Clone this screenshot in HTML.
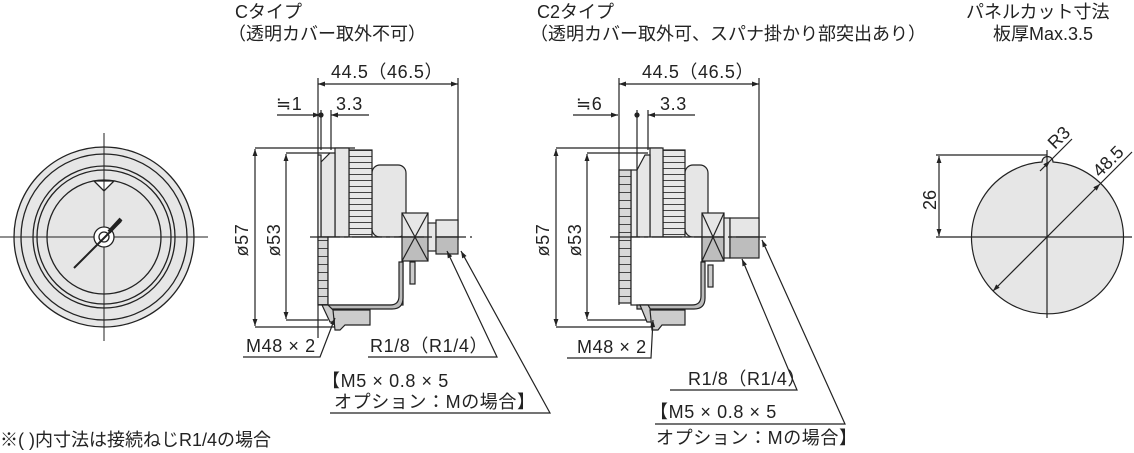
<!DOCTYPE html>
<html><head><meta charset="utf-8"><style>
html,body{margin:0;padding:0;background:#fff;}
svg{display:block;}
text{font-family:"Liberation Sans","Noto Sans CJK JP",sans-serif;fill:#222;}
.d{letter-spacing:0.6px;}
</style></head><body>
<svg width="1134" height="453" viewBox="0 0 1134 453" xmlns="http://www.w3.org/2000/svg">
<defs>
<marker id="a" viewBox="0 0 10 10" refX="10" refY="5" markerWidth="9" markerHeight="7" orient="auto-start-reverse" markerUnits="userSpaceOnUse"><path d="M0,1.5 L10,5 L0,8.5z" fill="#222"/></marker>
<pattern id="kn" width="6" height="6" patternUnits="userSpaceOnUse"><rect width="6" height="6" fill="#e8e8e8"/><line x1="0" y1="0.5" x2="6" y2="0.5" stroke="#444" stroke-width="1"/></pattern>
<pattern id="kn2" width="6" height="8" patternUnits="userSpaceOnUse"><rect width="6" height="8" fill="#d8d8d8"/><line x1="0" y1="0.5" x2="6" y2="0.5" stroke="#444" stroke-width="1"/></pattern>
</defs>
<g font-size="18">
<text x="235" y="18">Cタイプ</text>
<text x="228" y="40">（透明カバー取外不可）</text>
<text x="537" y="18">C2タイプ</text>
<text x="530" y="40">（透明カバー取外可、スパナ掛かり部突出あり）</text>
<text x="966" y="18">パネルカット寸法</text>
<text x="993" y="40">板厚Max.3.5</text>
<text x="0" y="446">※( )内寸法は接続ねじR1/4の場合</text>
</g>

<!-- Front view -->
<g stroke="#222" stroke-width="1.3">
<circle cx="104" cy="237" r="90" fill="#e6e6e6"/>
<circle cx="104" cy="237" r="83" fill="#e6e6e6"/>
<circle cx="104" cy="237" r="71" fill="#e6e6e6"/>
<circle cx="104" cy="237" r="67" fill="#e6e6e6"/>
<circle cx="104" cy="237" r="57" fill="#e6e6e6"/>
<path d="M94,181 L114,181 L104,191 Z" fill="#fff"/>
<line x1="0" y1="237" x2="208" y2="237" stroke-width="1"/>
<line x1="104" y1="133" x2="104" y2="341" stroke-width="1"/>
<circle cx="104" cy="237" r="10" fill="#fff"/>
<circle cx="104" cy="237" r="5" fill="#fff"/>
<line x1="74" y1="268" x2="121" y2="221" stroke-width="2"/>
<line x1="109" y1="232" x2="121" y2="219" stroke-width="4"/>
</g>

<!-- C type side view -->
<g stroke="#222" stroke-width="1.2">
<line x1="318" y1="84" x2="458" y2="84" marker-start="url(#a)" marker-end="url(#a)"/>
<line x1="318" y1="78" x2="318" y2="338"/>
<line x1="458" y1="78" x2="458" y2="240"/>
<line x1="277" y1="115" x2="320" y2="115" marker-end="url(#a)"/>
<line x1="369" y1="115" x2="331" y2="115" marker-end="url(#a)"/>
<line x1="321" y1="110" x2="321" y2="150"/>
<line x1="331" y1="110" x2="331" y2="150"/>
<circle cx="321" cy="115" r="2" fill="#222"/>
<line x1="255" y1="148" x2="355" y2="148"/>
<line x1="255" y1="327" x2="335" y2="327"/>
<line x1="255" y1="149" x2="255" y2="326" marker-start="url(#a)" marker-end="url(#a)"/>
<line x1="286" y1="153" x2="330" y2="153"/>
<line x1="286" y1="320" x2="328" y2="320"/>
<line x1="286" y1="154" x2="286" y2="319" marker-start="url(#a)" marker-end="url(#a)"/>
<rect x="372" y="165" width="34" height="72" rx="8" fill="#e6e6e6"/>
<rect x="349" y="150" width="23" height="87" fill="url(#kn)"/>
<rect x="335" y="148" width="14" height="89" fill="#e6e6e6"/>
<path d="M321,237 L321,162 L330,153 L335,153 L335,237 Z" fill="#e6e6e6"/>
<rect x="318" y="155" width="3" height="82" fill="#eee"/>
<rect x="318" y="237" width="10" height="68" fill="url(#kn2)"/>
<rect x="328" y="237" width="75" height="68" fill="#fff"/>
<path d="M403,262 L403,298 Q403,309 392,309 L328,309 L328,305 L390,305 Q399,305 399,296 L399,262 Z" fill="#bbb"/>
<path d="M322,305 L328,305 L335,312 L335,322 L330,322 Z" fill="#ccc"/>
<path d="M333,310 L370,310 L370,325 L345,325 L340,330 L335,330 Z" fill="#ccc"/>
<rect x="410" y="262" width="5" height="22" fill="#ccc"/>
<rect x="402" y="213" width="26" height="24" fill="#e6e6e6"/>
<rect x="402" y="237" width="26" height="24" fill="#bdbdbd"/>
<line x1="402" y1="213" x2="428" y2="261"/><line x1="428" y1="213" x2="402" y2="261"/>
<rect x="428" y="223" width="8" height="28" fill="#e6e6e6"/>
<rect x="436" y="220" width="22" height="17" fill="#e6e6e6"/>
<rect x="436" y="237" width="22" height="17" fill="#bdbdbd"/>
<line x1="310" y1="237" x2="472" y2="237" stroke-dasharray="30,4,4,4"/>
<polyline points="243,357 320,357 335,318" fill="none" marker-end="url(#a)"/>
<polyline points="368,357 497,357 447,251" fill="none" marker-end="url(#a)"/>
<polyline points="330,413 550,413 461,251" fill="none" marker-end="url(#a)"/>
</g>
<g font-size="18" class="d">
<text x="331" y="78">44.5（46.5）</text>
<text x="276" y="110">≒1</text>
<text x="336" y="110">3.3</text>
<text x="248" y="240" transform="rotate(-90 248 240)" text-anchor="middle">ø57</text>
<text x="280" y="240" transform="rotate(-90 280 240)" text-anchor="middle">ø53</text>
<text x="246" y="352">M48 × 2</text>
<text x="370" y="352">R1/8（R1/4）</text>
<text x="322" y="387">【M5 × 0.8 × 5</text>
<text x="334" y="408">オプション：Mの場合】</text>
</g>

<!-- C2 type side view -->
<g stroke="#222" stroke-width="1.2">
<line x1="619" y1="84" x2="759" y2="84" marker-start="url(#a)" marker-end="url(#a)"/>
<line x1="619" y1="78" x2="619" y2="305"/>
<line x1="759" y1="78" x2="759" y2="240"/>
<line x1="573" y1="115" x2="618" y2="115" marker-end="url(#a)"/>
<line x1="695" y1="115" x2="648" y2="115" marker-end="url(#a)"/>
<line x1="637" y1="110" x2="637" y2="170"/>
<line x1="648" y1="110" x2="648" y2="150"/>
<circle cx="637" cy="115" r="2" fill="#222"/>
<line x1="556" y1="148" x2="662" y2="148"/>
<line x1="556" y1="327" x2="656" y2="327"/>
<line x1="556" y1="149" x2="556" y2="326" marker-start="url(#a)" marker-end="url(#a)"/>
<line x1="587" y1="153" x2="648" y2="153"/>
<line x1="587" y1="320" x2="648" y2="320"/>
<line x1="587" y1="154" x2="587" y2="319" marker-start="url(#a)" marker-end="url(#a)"/>
<rect x="685" y="165" width="23" height="72" rx="8" fill="#e6e6e6"/>
<rect x="663" y="150" width="22" height="87" fill="url(#kn)"/>
<rect x="650" y="148" width="13" height="89" fill="#e6e6e6"/>
<path d="M637,237 L637,170 L645,155 L650,155 L650,237 Z" fill="#e6e6e6"/>
<rect x="631" y="170" width="6" height="67" fill="#eee"/>
<rect x="619" y="170" width="12" height="133" fill="url(#kn2)"/>
<rect x="631" y="237" width="71" height="68" fill="#fff"/>
<path d="M705,262 L705,298 Q705,309 694,309 L637,309 L637,305 L692,305 Q701,305 701,296 L701,262 Z" fill="#bbb"/>
<path d="M640,305 L648,305 L652,312 L652,322 L647,322 Z" fill="#ccc"/>
<path d="M650,310 L685,310 L685,325 L662,325 L658,330 L652,330 Z" fill="#ccc"/>
<rect x="708" y="265" width="5" height="22" fill="#ccc"/>
<rect x="702" y="213" width="22" height="24" fill="#e6e6e6"/>
<rect x="702" y="237" width="22" height="24" fill="#bdbdbd"/>
<line x1="702" y1="213" x2="724" y2="261"/><line x1="724" y1="213" x2="702" y2="261"/>
<rect x="724" y="218" width="6" height="40" fill="#e6e6e6"/>
<rect x="730" y="218" width="29" height="19" fill="#e6e6e6"/>
<rect x="730" y="237" width="29" height="21" fill="#bdbdbd"/>
<line x1="610" y1="237" x2="770" y2="237" stroke-dasharray="30,4,4,4"/>
<polyline points="567,358 651,358 653,320" fill="none" marker-end="url(#a)"/>
<polyline points="670,390 797,390 742,259" fill="none" marker-end="url(#a)"/>
<polyline points="655,424 845,424 762,240" fill="none" marker-end="url(#a)"/>
</g>
<g font-size="18" class="d">
<text x="642" y="78">44.5（46.5）</text>
<text x="576" y="110">≒6</text>
<text x="660" y="110">3.3</text>
<text x="549" y="240" transform="rotate(-90 549 240)" text-anchor="middle">ø57</text>
<text x="581" y="240" transform="rotate(-90 581 240)" text-anchor="middle">ø53</text>
<text x="577" y="353">M48 × 2</text>
<text x="688" y="385">R1/8（R1/4）</text>
<text x="650" y="418">【M5 × 0.8 × 5</text>
<text x="656" y="444">オプション：Mの場合】</text>
</g>

<!-- Panel cut -->
<g stroke="#222" stroke-width="1.2">
<path d="M1042,162 A76,76 0 1,0 1053,162 A5,5 0 0,0 1042,162 Z" fill="#e6e6e6"/>
<line x1="936" y1="237" x2="1132" y2="237"/>
<line x1="1047" y1="150" x2="1047" y2="318"/>
<line x1="936" y1="155" x2="1047" y2="155"/>
<line x1="939" y1="156" x2="939" y2="236" marker-start="url(#a)" marker-end="url(#a)"/>
<line x1="993" y1="291" x2="1100" y2="184" marker-start="url(#a)" marker-end="url(#a)"/>
<line x1="1100" y1="184" x2="1132" y2="152"/>
<line x1="1040" y1="171" x2="1050" y2="161" marker-end="url(#a)"/>
<line x1="1050" y1="161" x2="1072" y2="139"/>
</g>
<g font-size="18">
<text x="936" y="200" transform="rotate(-90 936 200)" text-anchor="middle">26</text>
<text x="1055" y="150" transform="rotate(-45 1055 150)">R3</text>
<text x="1100" y="178" transform="rotate(-45 1100 178)">48.5</text>
</g>
</svg>
</body></html>
